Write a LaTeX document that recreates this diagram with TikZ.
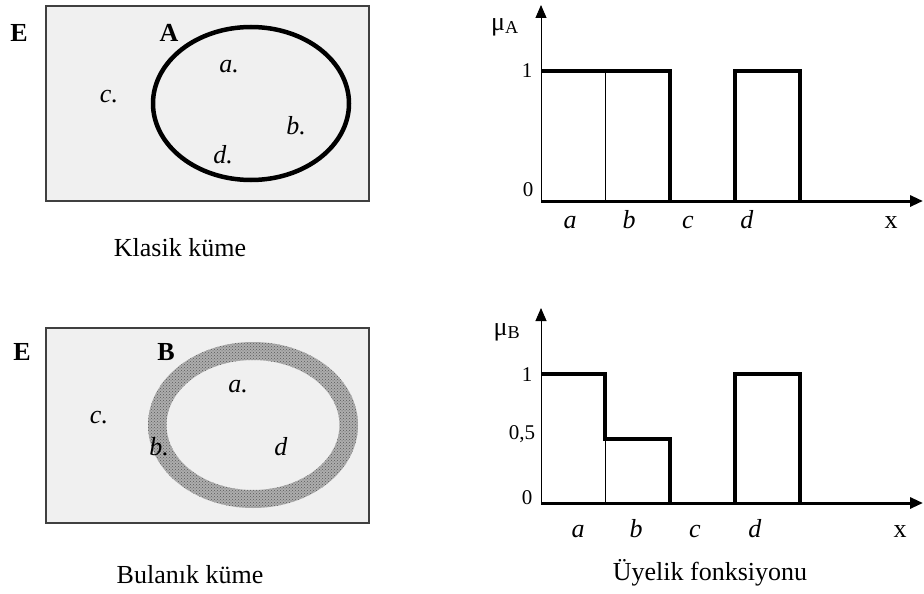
\documentclass[tikz,border=0pt]{standalone}
\usepackage{fontspec}
\setmainfont{Liberation Serif}
\usetikzlibrary{arrows.meta,patterns}

\begin{document}
\begin{tikzpicture}[x=1pt, y=-1pt, font=\fontsize{26}{30}\selectfont,
  kume/.style={draw=black!75, fill=black!6, line width=1.3pt},
  basamak/.style={line width=3.6pt, line join=miter},
  ince/.style={line width=0.9pt},
  eksen/.style={-{Triangle[length=13pt,width=11pt]}},
  sayi/.style={font=\fontsize{21}{25}\selectfont},
  etiket/.style={anchor=base}]
  \useasboundingbox (0,0) rectangle (924,594);
  % klasik küme
  \draw[kume] (46,6) rectangle (369,201);
  \draw[line width=4.5pt] (251,103.5) ellipse [x radius=98, y radius=76.5];
  \node (E1) at (19,33) {\textbf{E}};
  \node (A) at (169,33) {\textbf{A}};
  \foreach \n/\x/\y/\lab in {ka/229/67/a., kb/296/126/b., kc/109/97/c., kd/223/155/d.}
    \node (\n) at (\x,\y) {\textit{\lab}};
  \node (klasik) at (180,248) {Klasik küme};
  % bulanık küme
  \draw[kume] (46,328) rectangle (369,523);
  \fill[black!32, even odd rule]
    (253,425) ellipse [x radius=105, y radius=83]
    (253,425) ellipse [x radius=86.5, y radius=65];
  \fill[pattern=crosshatch dots, pattern color=black!65, even odd rule]
    (253,425) ellipse [x radius=105, y radius=83]
    (253,425) ellipse [x radius=86.5, y radius=65];
  \node (E2) at (22,352) {\textbf{E}};
  \node (B) at (166,352) {\textbf{B}};
  \foreach \n/\x/\y/\lab in {ba/238/387/a., bb/159/447/b., bc/99/418/c., bd/281/447/d}
    \node (\n) at (\x,\y) {\textit{\lab}};
  \node (bulanik) at (190,575) {Bulanık küme};
  % üyelik fonksiyonu: A
  \coordinate (oA) at (541,201);
  \coordinate (yA) at (541,5);
  \coordinate (xA) at (923,201);
  \draw[ince, eksen] (oA) -- (yA);
  \draw[line width=3pt, eksen] (oA) -- (xA);
  \draw[basamak] (541,71) -- (670,71) -- (670,201);
  \draw[basamak] (735,201) -- (735,71) -- (800,71) -- (800,201);
  \draw[ince] (605,71) -- (605,201);
  \node (muA) at (505,27) {μ\textsubscript{A}};
  \node[sayi] (birA) at (527,71) {1};
  \node[sayi] (sifirA) at (528,190) {0};
  \foreach \n/\x in {a/570, b/629, c/688, d/747}
    \node[etiket] (tA\n) at (\x,228) {\textit{\n}};
  \node[etiket] (xlabA) at (891,228) {x};
  % üyelik fonksiyonu: B
  \coordinate (oB) at (541,503);
  \coordinate (yB) at (541,308);
  \coordinate (xB) at (923,503);
  \draw[ince, eksen] (oB) -- (yB);
  \draw[line width=3pt, eksen] (oB) -- (xB);
  \draw[basamak] (541,374) -- (605,374) -- (605,439) -- (670,439) -- (670,503);
  \draw[basamak] (735,503) -- (735,374) -- (800,374) -- (800,503);
  \draw[ince] (605,439) -- (605,503);
  \node (muB) at (507,332) {μ\textsubscript{B}};
  \node[sayi] (birB) at (527,375) {1};
  \node[sayi] (yarim) at (522,434) {0,5};
  \node[sayi] (sifirB) at (527,498) {0};
  \foreach \n/\x in {a/578, b/636, c/695, d/755}
    \node[etiket] (tB\n) at (\x,537) {\textit{\n}};
  \node[etiket] (xlabB) at (900,537) {x};
  \node (uyelik) at (710,573) {Üyelik fonksiyonu};
\end{tikzpicture}
\end{document}
